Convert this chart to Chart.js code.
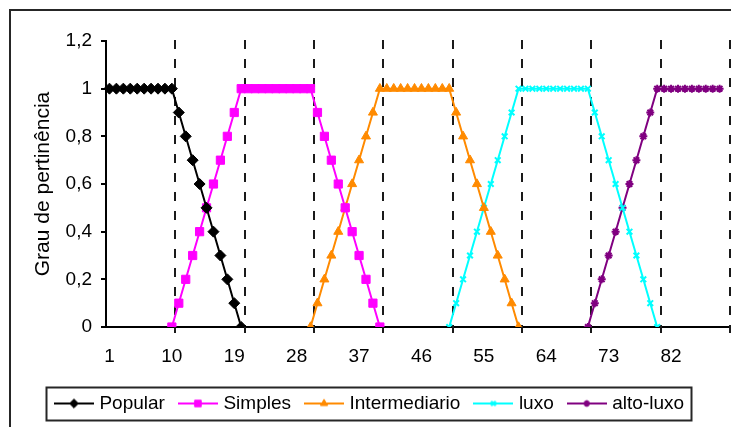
<!DOCTYPE html>
<html lang="pt">
<head>
<meta charset="utf-8">
<title>Grau de pertinência</title>
<script src="https://cdn.jsdelivr.net/npm/chart.js"></script>
<style>
  html, body { margin: 0; padding: 0; background: #ffffff; }
  #wrap { width: 731px; height: 427px; }
</style>
</head>
<body>
<div id="wrap"><canvas id="chart" width="731" height="427"></canvas></div>
<script>
// Categorias do eixo X (1 a 90)
const categories = [
  1, 2, 3, 4, 5, 6, 7, 8, 9, 10,
  11, 12, 13, 14, 15, 16, 17, 18, 19, 20,
  21, 22, 23, 24, 25, 26, 27, 28, 29, 30,
  31, 32, 33, 34, 35, 36, 37, 38, 39, 40,
  41, 42, 43, 44, 45, 46, 47, 48, 49, 50,
  51, 52, 53, 54, 55, 56, 57, 58, 59, 60,
  61, 62, 63, 64, 65, 66, 67, 68, 69, 70,
  71, 72, 73, 74, 75, 76, 77, 78, 79, 80,
  81, 82, 83, 84, 85, 86, 87, 88, 89, 90
];
const xTickLabels = ['1', '10', '19', '28', '37', '46', '55', '64', '73', '82'];
const yTickLabels = ['0', '0,2', '0,4', '0,6', '0,8', '1', '1,2'];
// Linhas tracejadas de separação (após estas categorias)
const dividerCategories = [10, 20, 30, 40, 50, 60, 70, 80, 90];

// Funções de pertinência: primeira categoria e valores a partir dela
const popularStart = 1;
const popularValues = [1, 1, 1, 1, 1, 1, 1, 1, 1, 1, 0.9, 0.8, 0.7, 0.6, 0.5, 0.4, 0.3, 0.2, 0.1, 0];

const simplesStart = 10;
const simplesValues = [0, 0.1, 0.2, 0.3, 0.4, 0.5, 0.6, 0.7, 0.8, 0.9, 1,
  1, 1, 1, 1, 1, 1, 1, 1, 1, 1,
  0.9, 0.8, 0.7, 0.6, 0.5, 0.4, 0.3, 0.2, 0.1, 0];

const intermediarioStart = 30;
const intermediarioValues = [0, 0.1, 0.2, 0.3, 0.4, 0.5, 0.6, 0.7, 0.8, 0.9, 1,
  1, 1, 1, 1, 1, 1, 1, 1, 1, 1,
  0.9, 0.8, 0.7, 0.6, 0.5, 0.4, 0.3, 0.2, 0.1, 0];

const luxoStart = 50;
const luxoValues = [0, 0.1, 0.2, 0.3, 0.4, 0.5, 0.6, 0.7, 0.8, 0.9, 1,
  1, 1, 1, 1, 1, 1, 1, 1, 1, 1,
  0.9, 0.8, 0.7, 0.6, 0.5, 0.4, 0.3, 0.2, 0.1, 0];

const altoLuxoStart = 70;
const altoLuxoValues = [0, 0.1, 0.2, 0.3, 0.4, 0.5, 0.6, 0.7, 0.8, 0.9, 1,
  1, 1, 1, 1, 1, 1, 1, 1, 1];

const FONT = '"Liberation Sans", Arial, Helvetica, sans-serif';
Chart.defaults.font.family = FONT;
Chart.defaults.color = '#000000';

function series(label, start, values, color, style, radius, pointBorder) {
  return {
    label: label,
    data: values.map((v, j) => ({ x: String(start + j), y: v })),
    borderColor: color,
    backgroundColor: color,
    borderWidth: 2,
    tension: 0,
    fill: false,
    pointStyle: style,
    pointRadius: radius,
    pointHoverRadius: radius,
    pointBackgroundColor: color,
    pointBorderColor: color,
    pointBorderWidth: pointBorder,
    legendRadius: radius * 0.8
  };
}

const datasets = [
  series('Popular', popularStart, popularValues, '#000000', 'rectRot', 5.5, 1),
  series('Simples', simplesStart, simplesValues, '#FF00FF', 'rect', 5.8, 1),
  series('Intermediario', intermediarioStart, intermediarioValues, '#FF8A00', 'triangle', 5.2, 1),
  series('luxo', luxoStart, luxoValues, '#00FFFF', 'crossRot', 4, 2),
  series('alto-luxo', altoLuxoStart, altoLuxoValues, '#800080', 'star', 4, 2)
];

// Símbolo da legenda: segmento de linha com o marcador ao centro
function legendSymbol(ds) {
  const c = document.createElement('canvas');
  c.width = 40; c.height = 14;
  const g = c.getContext('2d');
  g.strokeStyle = ds.borderColor;
  g.lineWidth = 2;
  g.beginPath(); g.moveTo(0, 7); g.lineTo(40, 7); g.stroke();
  g.fillStyle = ds.borderColor;
  g.lineWidth = ds.pointBorderWidth;
  Chart.helpers.drawPoint(g, {
    pointStyle: ds.pointStyle, radius: ds.legendRadius, rotation: 0, borderWidth: ds.pointBorderWidth
  }, 20, 7);
  return c;
}

const dividerPlugin = {
  id: 'dividers',
  beforeDatasetsDraw(chart) {
    const xs = chart.scales.x;
    const area = chart.chartArea;
    const half = (xs.getPixelForValue(1) - xs.getPixelForValue(0)) / 2;
    const ctx = chart.ctx;
    ctx.save();
    ctx.strokeStyle = '#1a1a1a';
    ctx.lineWidth = 2;
    ctx.setLineDash([9, 10]);
    dividerCategories.forEach(c => {
      const px = Math.round(xs.getPixelForValue(categories.indexOf(c)) + half);
      ctx.beginPath();
      ctx.moveTo(px, area.top - 1);
      ctx.lineTo(px, area.bottom + 6);
      ctx.stroke();
    });
    ctx.restore();
  }
};

const framePlugin = {
  id: 'frames',
  afterDraw(chart) {
    const ctx = chart.ctx;
    ctx.save();
    // moldura externa do gráfico
    ctx.strokeStyle = '#262626';
    ctx.lineWidth = 2;
    ctx.strokeRect(10, 10, 800, 600);
    // caixa da legenda
    const boxes = chart.legend.legendHitBoxes;
    if (boxes && boxes.length) {
      const first = boxes[0];
      const last = boxes[boxes.length - 1];
      const left = first.left - 12;
      const right = last.left + last.width + 7;
      const top = first.top - 7;
      const bottom = first.top + first.height + 7;
      ctx.strokeRect(Math.round(left) + 0.5, Math.round(top) + 0.5, Math.round(right - left), Math.round(bottom - top));
    }
    ctx.restore();
  }
};

new Chart(document.getElementById('chart'), {
  type: 'line',
  data: { labels: categories.map(String), datasets: datasets },
  plugins: [dividerPlugin, framePlugin],
  options: {
    responsive: false,
    animation: false,
    events: [],
    layout: { autoPadding: false, padding: { left: 12, right: 1, top: 41, bottom: 4 } },
    plugins: {
      tooltip: { enabled: false },
      legend: {
        position: 'bottom',
        align: 'center',
        labels: {
          usePointStyle: true,
          pointStyleWidth: 32,
          padding: 17,
          color: '#000000',
          font: { size: 19, family: FONT },
          generateLabels: chart => chart.data.datasets.map((ds, i) => ({
            text: ds.label,
            pointStyle: legendSymbol(ds),
            fillStyle: ds.borderColor,
            strokeStyle: ds.borderColor,
            lineWidth: 0,
            hidden: false,
            datasetIndex: i
          }))
        }
      }
    },
    scales: {
      x: {
        type: 'category',
        offset: true,
        grid: { display: false, drawTicks: true, tickLength: 18 },
        border: { display: true, color: '#000000', width: 2 },
        ticks: {
          autoSkip: false,
          maxRotation: 0,
          minRotation: 0,
          padding: 0,
          color: '#000000',
          font: { size: 19, family: FONT },
          callback: function (value) {
            const lab = this.getLabelForValue(value);
            return xTickLabels.includes(lab) ? lab : '';
          }
        },
        afterFit: s => { s.height = 50; }
      },
      y: {
        min: 0,
        max: 1.2,
        grid: { drawOnChartArea: false, drawTicks: true, tickLength: 5, color: '#000000', lineWidth: 2 },
        border: { display: true, color: '#000000', width: 2 },
        ticks: {
          stepSize: 0.2,
          padding: 9,
          color: '#000000',
          font: { size: 19, family: FONT },
          callback: (v, i) => yTickLabels[i]
        },
        title: {
          display: true,
          text: 'Grau de pertinência',
          color: '#000000',
          font: { size: 21, family: FONT },
          padding: { top: 19, bottom: 0 }
        },
        afterFit: s => { s.width = 94; }
      }
    }
  }
});
</script>
</body>
</html>
